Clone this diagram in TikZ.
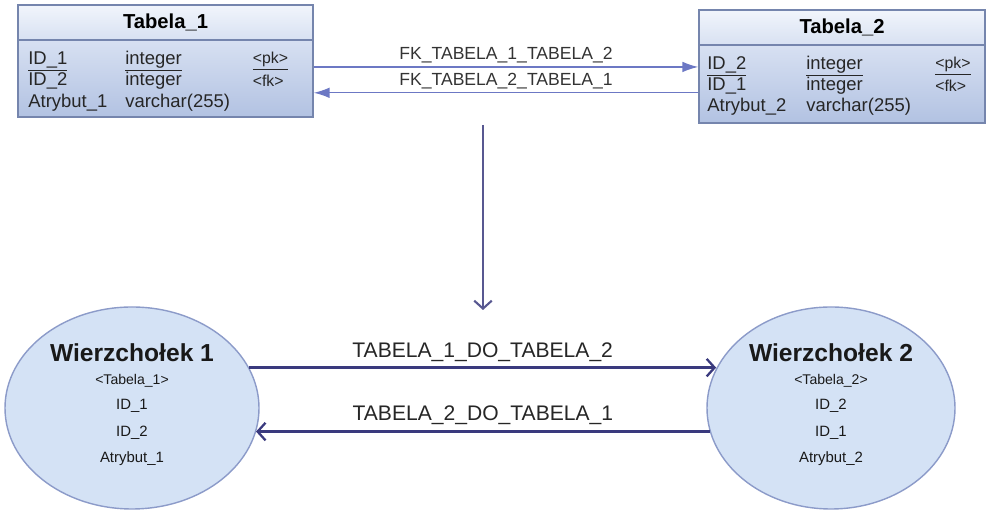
\documentclass[tikz,border=0pt]{standalone}
\usepackage{fontspec}
\setmainfont{Liberation Sans}
\usetikzlibrary{arrows.meta,shapes.geometric}

\definecolor{tabedge}{HTML}{7585AD}
\definecolor{tabtop}{HTML}{E8EEF9}
\definecolor{tabbot}{HTML}{B2C2E2}
\definecolor{fkline}{HTML}{6C78C4}
\definecolor{vtxfill}{HTML}{D4E2F5}
\definecolor{vtxedge}{HTML}{8C9BC9}
\definecolor{relline}{HTML}{3A3A7E}

\begin{document}
\begin{tikzpicture}[
    tabbox/.style={draw=tabedge, line width=0.8pt, top color=tabtop, bottom color=tabbot, inner sep=0pt},
    tabhead/.style={tabbox, top color=tabtop!60!white, bottom color=tabtop!70!tabbot, font=\fontsize{11.5}{13}\bfseries\selectfont},
    col/.style={anchor=west, inner sep=0pt, text=black!85, font=\fontsize{10.5}{12}\selectfont},
    key/.style={anchor=west, inner sep=0pt, text=black!85, font=\fontsize{9}{10}\selectfont},
    fk/.style={draw=fkline, line width=0.8pt, -{Latex[length=9pt,width=6pt]}},
    fklab/.style={above, inner sep=2pt, text=black!80, font=\fontsize{10}{12}\selectfont},
    vtx/.style={ellipse, draw=vtxedge, line width=0.8pt, fill=vtxfill, inner sep=0pt},
    vtxtext/.style={align=center, inner sep=0pt, text=black!90},
    rel/.style={draw=relline, line width=1.3pt, -{Straight Barb[length=4.5pt,width=10pt]}},
    rellab/.style={above, inner sep=3pt, text=black!85, font=\fontsize{12}{14}\selectfont}
]
    \useasboundingbox (0,0) rectangle (19.8,10.26);

    % tables
    \node[tabbox, minimum width=5.9cm, minimum height=2.24cm] (tab1) at (3.31,9.04) {};
    \node[tabhead, minimum width=5.9cm, minimum height=0.7cm, anchor=north] (tab1h) at (tab1.north) {Tabela\_1};
    \node[col] (t1r1a) at (0.56,9.03) {\underline{ID\_1}};
    \node[col] (t1r1b) at (2.5,9.03) {\underline{integer}};
    \node[key] (t1r1c) at (5.05,9.03) {\underline{<pk>}};
    \node[col] (t1r2a) at (0.56,8.64) {ID\_2};
    \node[col] (t1r2b) at (2.5,8.64) {integer};
    \node[key] (t1r2c) at (5.05,8.64) {<fk>};
    \node[col] (t1r3a) at (0.56,8.21) {Atrybut\_1};
    \node[col] (t1r3b) at (2.5,8.21) {varchar(255)};

    \node[tabbox, minimum width=5.72cm, minimum height=2.26cm] (tab2) at (16.84,8.93) {};
    \node[tabhead, minimum width=5.72cm, minimum height=0.7cm, anchor=north] (tab2h) at (tab2.north) {Tabela\_2};
    \node[col] (t2r1a) at (14.14,8.93) {\underline{ID\_2}};
    \node[col] (t2r1b) at (16.12,8.93) {\underline{integer}};
    \node[key] (t2r1c) at (18.7,8.93) {\underline{<pk>}};
    \node[col] (t2r2a) at (14.14,8.54) {ID\_1};
    \node[col] (t2r2b) at (16.12,8.54) {integer};
    \node[key] (t2r2c) at (18.7,8.54) {<fk>};
    \node[col] (t2r3a) at (14.14,8.13) {Atrybut\_2};
    \node[col] (t2r3b) at (16.12,8.13) {varchar(255)};

    % foreign keys
    \draw[fk] ([yshift=-3.4pt]tab1.east) -- ([yshift=-3.4pt]tab1.east -| tab2.west)
        node[fklab, midway] {FK\_TABELA\_1\_TABELA\_2};
    \draw[fk] ([yshift=-18.1pt]tab1.east -| tab2.west) -- ([yshift=-18.1pt]tab1.east)
        node[fklab, midway] {FK\_TABELA\_2\_TABELA\_1};

    % mapping
    \coordinate (mapTop) at (9.66,7.76);
    \coordinate (mapBot) at (9.66,4.06);
    \draw[rel, line width=1.2pt, draw=relline!85!white] (mapTop) -- (mapBot);

    % vertices
    \node[vtx, minimum width=5.08cm, minimum height=4.04cm] (w1) at (2.64,2.1) {};
    \node[vtxtext] (w1txt) at ([yshift=2pt]w1.center) {
        {\fontsize{14}{16}\bfseries\selectfont Wierzchołek 1}\\[1pt]
        {\fontsize{8}{9}\selectfont <Tabela\_1>}\\[2.5pt]
        {\fontsize{8.5}{9}\selectfont ID\_1}\\[3pt]
        {\fontsize{8.5}{9}\selectfont ID\_2}\\[3pt]
        {\fontsize{8.5}{9}\selectfont Atrybut\_1}};
    \node[vtx, minimum width=4.96cm, minimum height=4.04cm] (w2) at (16.62,2.1) {};
    \node[vtxtext] (w2txt) at ([yshift=2pt]w2.center) {
        {\fontsize{14}{16}\bfseries\selectfont Wierzchołek 2}\\[1pt]
        {\fontsize{8}{9}\selectfont <Tabela\_2>}\\[2.5pt]
        {\fontsize{8.5}{9}\selectfont ID\_2}\\[3pt]
        {\fontsize{8.5}{9}\selectfont ID\_1}\\[3pt]
        {\fontsize{8.5}{9}\selectfont Atrybut\_2}};

    \draw[rel] (w1.19) -- (w1.19 -| w2.161)
        node[rellab, midway] {TABELA\_1\_DO\_TABELA\_2};
    \draw[rel] (w2.191) -- (w2.191 -| w1.349)
        node[rellab, midway] {TABELA\_2\_DO\_TABELA\_1};
\end{tikzpicture}
\end{document}
